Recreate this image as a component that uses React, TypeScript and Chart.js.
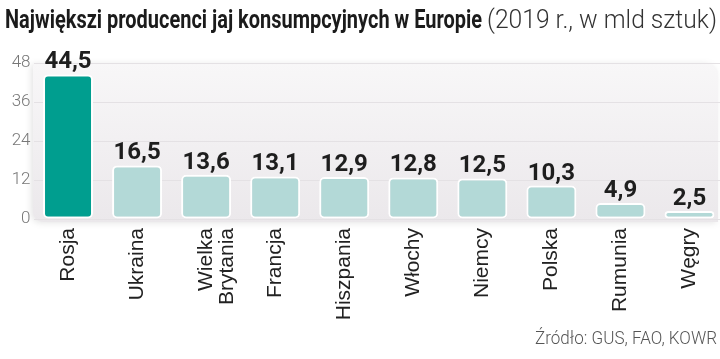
import React, { useEffect, useRef } from "react";
import { Chart, registerables } from "chart.js";

Chart.register(...registerables);

const categories: (string | string[])[] = [
  "Rosja",
  "Ukraina",
  ["Wielka", "Brytania"],
  "Francja",
  "Hiszpania",
  "Włochy",
  "Niemcy",
  "Polska",
  "Rumunia",
  "Węgry",
];
const values = [44.5, 16.5, 13.6, 13.1, 12.9, 12.8, 12.5, 10.3, 4.9, 2.5];
const valueLabels = ["44,5", "16,5", "13,6", "13,1", "12,9", "12,8", "12,5", "10,3", "4,9", "2,5"];
const yTicks = [0, 12, 24, 36, 48];
const titleBold = "Największi producenci jaj konsumpcyjnych w Europie";
const titleLight = "(2019 r., w mld sztuk)";
const sourceText = "Źródło: GUS, FAO, KOWR";

const HIGHLIGHT = "#009e8f";
const BASE = "#b3d9d7";

function drawFitted(
  ctx: CanvasRenderingContext2D,
  text: string,
  font: string,
  color: string,
  x: number,
  y: number,
  targetW: number,
  align: "left" | "right"
) {
  ctx.save();
  ctx.font = font;
  ctx.fillStyle = color;
  ctx.textBaseline = "alphabetic";
  ctx.textAlign = "left";
  const w = ctx.measureText(text).width;
  const sx = Math.min(1.1, targetW / w);
  const startX = align === "left" ? x : x - w * sx;
  ctx.translate(startX, y);
  ctx.scale(sx, 1);
  ctx.fillText(text, 0, 0);
  ctx.restore();
}

const panelPlugin = {
  id: "panel",
  beforeDraw(chart: any) {
    const { ctx, chartArea } = chart;
    const l = chartArea.left - 0.5;
    const t = chartArea.top;
    const r = 718;
    const b = chartArea.bottom + 3;
    ctx.save();
    const g = ctx.createLinearGradient(0, t, 0, b);
    g.addColorStop(0, "#f8f7f8");
    g.addColorStop(1, "#ebe8eb");
    ctx.shadowColor = "rgba(0,0,0,0.10)";
    ctx.shadowBlur = 6;
    ctx.shadowOffsetX = -2;
    ctx.shadowOffsetY = 1;
    ctx.fillStyle = g;
    ctx.beginPath();
    (ctx as any).roundRect(l, t, r - l, b - t, [4, 12, 0, 10]);
    ctx.fill();
    ctx.restore();
  },
  afterDraw(chart: any) {
    const { ctx } = chart;
    drawFitted(ctx, titleBold, "bold 25px Roboto", "#1b1b1b", 5, 28, 477, "left");
    drawFitted(ctx, titleLight, "300 25px Roboto", "#333333", 487, 28, 230, "left");
    drawFitted(ctx, sourceText, "300 18px Roboto", "#555555", 717, 344, 182, "right");
  },
};

const valuePlugin = {
  id: "values",
  afterDatasetsDraw(chart: any) {
    const { ctx } = chart;
    const meta = chart.getDatasetMeta(0);
    ctx.save();
    ctx.font = "bold 24px Roboto";
    ctx.fillStyle = "#1e1e1e";
    ctx.textAlign = "center";
    ctx.textBaseline = "alphabetic";
    meta.data.forEach((el: any, i: number) => {
      ctx.fillText(valueLabels[i], el.x, el.y - 6);
    });
    ctx.restore();
  },
};

export default function App() {
  const ref = useRef<HTMLCanvasElement>(null);
  useEffect(() => {
    if (!ref.current) return;
    const chart = new Chart(ref.current, {
      type: "bar",
      data: {
        labels: categories,
        datasets: [
          {
            data: values,
            backgroundColor: values.map((_, i) => (i === 0 ? HIGHLIGHT : BASE)),
            borderColor: "#ffffff",
            borderWidth: 2,
            borderRadius: 5,
            borderSkipped: false,
            barPercentage: 0.724,
            categoryPercentage: 1,
          },
        ],
      },
      options: {
        animation: false,
        responsive: true,
        maintainAspectRatio: false,
        layout: { padding: { left: 11.5, top: 63, right: 0, bottom: 0 } },
        plugins: {
          legend: { display: false },
          tooltip: { enabled: false },
          title: { display: false },
        },
        scales: {
          x: {
            grid: { display: false, drawTicks: false },
            border: { display: false },
            ticks: {
              autoSkip: false,
              minRotation: 90,
              maxRotation: 90,
              padding: 9,
              color: "#222222",
              font: { family: "'Liberation Sans', Arial, sans-serif", size: 21, lineHeight: 1.0 },
            },
            afterFit: (scale: any) => {
              scale.height = 140;
            },
          },
          y: {
            min: 0,
            max: 48,
            afterBuildTicks: (scale: any) => {
              scale.ticks = yTicks.map((v) => ({ value: v }));
            },
            grid: { color: "#e4e1e4", drawTicks: false, lineWidth: 1 },
            border: { display: false },
            ticks: {
              padding: 3,
              color: "#777777",
              font: { family: "Roboto", size: 17, weight: "300" as any },
            },
            afterFit: (scale: any) => {
              scale.width = 22;
            },
          },
        },
      },
      plugins: [panelPlugin, valuePlugin],
    });
    return () => chart.destroy();
  }, []);

  return (
    <div
      style={{
        position: "absolute",
        left: 0,
        top: 0,
        width: 720,
        height: 359,
        overflow: "hidden",
        background: "#ffffff",
      }}
    >
      <div style={{ position: "relative", width: 724, height: 359 }}>
        <canvas ref={ref} />
      </div>
    </div>
  );
}
